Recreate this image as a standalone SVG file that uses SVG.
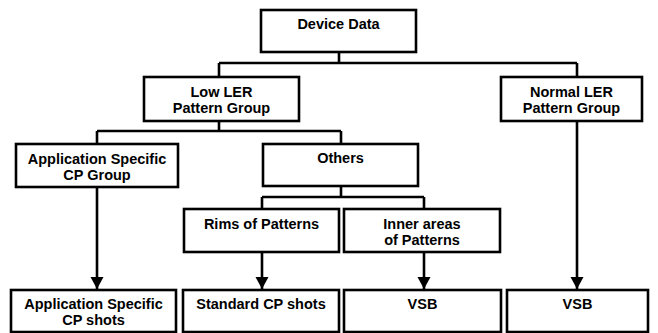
<svg xmlns="http://www.w3.org/2000/svg" width="658" height="333" viewBox="0 0 658 333">
  <style>
    .box { fill: #ffffff; stroke: #000000; stroke-width: 2.6; }
    .lbl { font-family: "Liberation Sans", Arial, sans-serif; font-weight: bold; font-size: 14.5px; fill: #000000; text-anchor: middle; }
    .wire { fill: none; stroke: #000000; stroke-width: 2.6; }
  </style>
  <defs>
    <marker id="arrow" markerUnits="userSpaceOnUse" markerWidth="14" markerHeight="14" refX="12" refY="7" orient="auto">
      <path d="M0,0.5 L12,7 L0,13.5 Z" fill="#000000"/>
    </marker>
  </defs>

  <rect width="658" height="333" fill="#ffffff"/>

  <g id="connectors">
    <path class="wire" d="M339,52 V63 M219,63 H577 M219,63 V77"/>
    <path class="wire" d="M577,63 V77"/>
    <path class="wire" d="M219,121 V131 M97,131 H341 M97,131 V144 M341,131 V144"/>
    <path class="wire" d="M341,186 V197 M262,197 H424 M262,197 V209 M424,197 V209"/>
    <path class="wire" d="M97,187 V289" marker-end="url(#arrow)"/>
    <path class="wire" d="M262,252 V289" marker-end="url(#arrow)"/>
    <path class="wire" d="M424,252 V289" marker-end="url(#arrow)"/>
    <path class="wire" d="M577,121 V289" marker-end="url(#arrow)"/>
  </g>

  <g id="device-data">
    <rect class="box" x="261" y="10" width="155" height="42"/>
    <text class="lbl" x="338.5" y="29">Device Data</text>
  </g>

  <g id="low-ler">
    <rect class="box" x="144" y="77" width="155" height="44"/>
    <text class="lbl" x="221.5" y="97">Low LER</text>
    <text class="lbl" x="221.5" y="113">Pattern Group</text>
  </g>

  <g id="normal-ler">
    <rect class="box" x="501" y="77" width="141" height="44"/>
    <text class="lbl" x="571.5" y="97">Normal LER</text>
    <text class="lbl" x="571.5" y="113">Pattern Group</text>
  </g>

  <g id="app-cp-group">
    <rect class="box" x="16" y="144" width="162" height="43"/>
    <text class="lbl" x="97" y="164">Application Specific</text>
    <text class="lbl" x="97" y="180">CP Group</text>
  </g>

  <g id="others">
    <rect class="box" x="263" y="144" width="155" height="42"/>
    <text class="lbl" x="340.5" y="163">Others</text>
  </g>

  <g id="rims">
    <rect class="box" x="184" y="209" width="155" height="43"/>
    <text class="lbl" x="261.5" y="229">Rims of Patterns</text>
  </g>

  <g id="inner-areas">
    <rect class="box" x="344" y="209" width="156" height="43"/>
    <text class="lbl" x="422" y="229">Inner areas</text>
    <text class="lbl" x="422" y="245">of Patterns</text>
  </g>

  <g id="app-cp-shots">
    <rect class="box" x="11" y="290" width="165" height="42"/>
    <text class="lbl" x="93.5" y="309">Application Specific</text>
    <text class="lbl" x="93.5" y="325">CP shots</text>
  </g>

  <g id="standard-cp-shots">
    <rect class="box" x="183" y="290" width="156" height="42"/>
    <text class="lbl" x="261" y="309">Standard CP shots</text>
  </g>

  <g id="vsb-inner">
    <rect class="box" x="344" y="290" width="157" height="42"/>
    <text class="lbl" x="422.5" y="309">VSB</text>
  </g>

  <g id="vsb-normal">
    <rect class="box" x="507" y="290" width="141" height="42"/>
    <text class="lbl" x="577.5" y="309">VSB</text>
  </g>
</svg>
